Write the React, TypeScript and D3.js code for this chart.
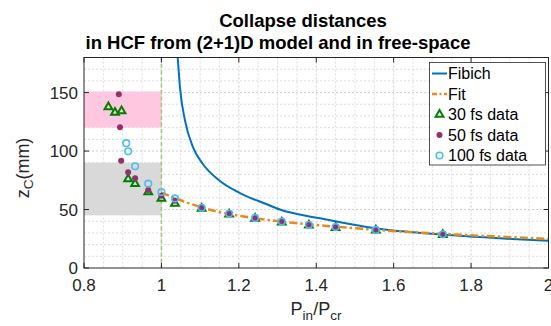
import React from "react";
import * as d3 from "d3";

const W = 551;
const H = 326;

// ---- data ----
const xTicks = [0.8, 1, 1.2, 1.4, 1.6, 1.8, 2];
const xTickLabels = ["0.8", "1", "1.2", "1.4", "1.6", "1.8", "2"];
const yTicks = [0, 50, 100, 150];
const yTickLabels = ["0", "50", "100", "150"];

const fibichP = [1.036, 1.042, 1.048, 1.061, 1.082, 1.108, 1.147, 1.203, 1.272, 1.306, 1.41, 1.513, 1.565, 1.651, 1.78, 2.0];
const fibichZ = [200, 180, 154, 126, 103, 88.5, 75.5, 64.1, 54.5, 50.0, 42.5, 36.1, 33.4, 30.6, 27.3, 23.2];

const fitP = [1.0, 1.07, 1.143, 1.229, 1.332, 1.453, 1.556, 1.78, 2.0];
const fitZ = [64.5, 55.5, 48.3, 43.2, 38.9, 35.3, 32.6, 28.3, 24.9];

const p30 = [0.863, 0.88, 0.897, 0.914, 0.932, 0.966, 1.0, 1.035, 1.104, 1.175, 1.242, 1.311, 1.381, 1.45, 1.554, 1.727];
const z30 = [137.6, 133.0, 134.2, 76.1, 72.1, 65.0, 59.5, 55.2, 50.8, 46.0, 42.3, 39.2, 36.6, 34.5, 32.2, 28.5];

const p50 = [0.89, 0.893, 0.896, 0.914, 0.932, 0.966, 1.0, 1.035, 1.104, 1.175, 1.242, 1.311, 1.381, 1.45, 1.554, 1.727];
const z50 = [148.5, 120.4, 91.8, 81.8, 76.7, 66.7, 61.8, 57.5, 51.3, 46.3, 42.6, 39.5, 36.9, 34.9, 32.5, 28.7];

const p100 = [0.909, 0.914, 0.932, 0.966, 1.0, 1.035, 1.104, 1.175, 1.242, 1.311, 1.381, 1.45, 1.554, 1.727];
const z100 = [106.7, 99.8, 87.0, 72.1, 65.0, 59.5, 51.5, 46.5, 42.8, 39.7, 37.0, 35.0, 32.6, 28.8];

// shaded regions [x0, x1, y0, y1]
const pinkBox = [0.8, 1.0, 120, 151];
const grayBox = [0.8, 1.0, 45, 90];
const thresholdP = 1.0;

const legendLabels = ["Fibich", "Fit", "30 fs data", "50 fs data", "100 fs data"];

// ---- styling ----
const FONT = "'Liberation Sans', Arial, Helvetica, sans-serif";
const BLUE = "#0072BD";
const ORANGE = "#E88A1A";
const GREEN = "#008000";
const PURPLE = "#93306F";
const CYAN = "#4DBEEE";
const AXIS = "#262626";

const L = 84, R = 548.5, T = 57.5, B = 268;

export default function App() {
  const x = d3.scaleLinear().domain([0.8, 2]).range([L, R]);
  const y = d3.scaleLinear().domain([0, 180]).range([B, T]);

  const xMinor = d3.range(0.85, 2.0, 0.05).filter(v => Math.abs((v - 0.8) / 0.2 - Math.round((v - 0.8) / 0.2)) > 1e-6);
  const yMinor = d3.range(10, 180, 10).filter(v => v % 50 !== 0);

  const line = d3.line<[number, number]>().x(d => x(d[0])).y(d => y(d[1])).curve(d3.curveMonotoneX);
  const fibPath = line(fibichP.map((p, i) => [p, fibichZ[i]]) as [number, number][]) || "";
  const fitPath = line(fitP.map((p, i) => [p, fitZ[i]]) as [number, number][]) || "";

  const tri = d3.symbol().type(d3.symbolTriangle).size(26)() || "";

  const legY = [73.5, 94, 114.5, 135, 155.5];
  const legX = 429.5;

  return (
    <svg width={W} height={H} style={{ position: "absolute", left: 0, top: 0, background: "#fff" }} fontFamily={FONT}>
      <defs>
        <clipPath id="plotclip">
          <rect x={L} y={T} width={R - L} height={B - T} />
        </clipPath>
      </defs>
      <rect x={0} y={0} width={W} height={H} fill="#fff" />

      {/* grid */}
      <g stroke="#dcdcdc" strokeWidth={1} strokeDasharray="2,2">
        {xMinor.map((v, i) => <line key={"xm" + i} x1={x(v)} x2={x(v)} y1={T} y2={B} />)}
        {yMinor.map((v, i) => <line key={"ym" + i} x1={L} x2={R} y1={y(v)} y2={y(v)} />)}
      </g>
      <g stroke="#cfcfcf" strokeWidth={1} strokeDasharray="2,2">
        {xTicks.slice(1, -1).map((v, i) => <line key={"xM" + i} x1={x(v)} x2={x(v)} y1={T} y2={B} />)}
        {yTicks.slice(1).map((v, i) => <line key={"yM" + i} x1={L} x2={R} y1={y(v)} y2={y(v)} />)}
      </g>

      {/* shaded boxes */}
      <rect x={x(pinkBox[0])} y={y(pinkBox[3])} width={x(pinkBox[1]) - x(pinkBox[0])} height={y(pinkBox[2]) - y(pinkBox[3])} fill="#FFC8E0" />
      <rect x={x(grayBox[0])} y={y(grayBox[3])} width={x(grayBox[1]) - x(grayBox[0])} height={y(grayBox[2]) - y(grayBox[3])} fill="#D9D9D9" />

      {/* threshold line */}
      <line x1={x(thresholdP)} x2={x(thresholdP)} y1={T} y2={B} stroke="#A6C47A" strokeWidth={1.5} strokeDasharray="4,2.5" />

      <g clipPath="url(#plotclip)">
        <path d={fibPath} fill="none" stroke={BLUE} strokeWidth={2} />
        <path d={fitPath} fill="none" stroke={ORANGE} strokeWidth={2.5} strokeDasharray="8,3,2.5,3" />
        {p30.map((p, i) => (
          <path key={"t" + i} d={tri} transform={`translate(${x(p)},${y(z30[i])})`} fill="none" stroke={GREEN} strokeWidth={2} />
        ))}
        {p50.map((p, i) => (
          <circle key={"d" + i} cx={x(p)} cy={y(z50[i])} r={3} fill={PURPLE} />
        ))}
        {p100.map((p, i) => (
          <circle key={"c" + i} cx={x(p)} cy={y(z100[i])} r={3.3} fill="none" stroke={CYAN} strokeWidth={1.6} />
        ))}
      </g>

      {/* axes box & ticks */}
      <rect x={L} y={T} width={R - L} height={B - T} fill="none" stroke={AXIS} strokeWidth={1} />
      <g stroke={AXIS} strokeWidth={1}>
        {xTicks.map((v, i) => (
          <g key={"xt" + i}>
            <line x1={x(v)} x2={x(v)} y1={B} y2={B - 5} />
            <line x1={x(v)} x2={x(v)} y1={T} y2={T + 5} />
          </g>
        ))}
        {yTicks.map((v, i) => (
          <g key={"yt" + i}>
            <line x1={L} x2={L + 5} y1={y(v)} y2={y(v)} />
            <line x1={R} x2={R - 5} y1={y(v)} y2={y(v)} />
          </g>
        ))}
      </g>
      <g fill={AXIS} fontSize={17}>
        {xTicks.map((v, i) => (
          <text key={"xl" + i} x={x(v)} y={291} textAnchor="middle">{xTickLabels[i]}</text>
        ))}
        {yTicks.map((v, i) => (
          <text key={"yl" + i} x={78} y={y(v)} dy="0.36em" textAnchor="end">{yTickLabels[i]}</text>
        ))}
      </g>

      {/* axis labels */}
      <text x={316} y={315} textAnchor="middle" fontSize={18} fill={AXIS}>
        P<tspan fontSize={13.5} dy={5}>in</tspan><tspan dy={-5}>/P</tspan><tspan fontSize={13.5} dy={5}>cr</tspan>
      </text>
      <text transform={`translate(29,168) rotate(-90)`} textAnchor="middle" fontSize={18} fill={AXIS}>
        z<tspan fontSize={13.5} dy={4}>C</tspan><tspan dy={-4}>(mm)</tspan>
      </text>

      {/* title */}
      <g fontWeight="bold" fontSize={18.5} fill="#000">
        <text x={303} y={27} textAnchor="middle">Collapse distances</text>
        <text x={278} y={49} textAnchor="middle">in HCF from (2+1)D model and in free-space</text>
      </g>

      {/* legend */}
      <rect x={legX} y={62.5} width={116} height={102.5} fill="#fff" stroke={AXIS} strokeWidth={0.8} />
      <line x1={432} x2={447} y1={legY[0]} y2={legY[0]} stroke={BLUE} strokeWidth={2} />
      <line x1={432} x2={447} y1={legY[1]} y2={legY[1]} stroke={ORANGE} strokeWidth={2.5} strokeDasharray="5,2.5,2,2.5" />
      <path d={tri} transform={`translate(439.5,${legY[2]})`} fill="none" stroke={GREEN} strokeWidth={2} />
      <circle cx={439.5} cy={legY[3]} r={3} fill={PURPLE} />
      <circle cx={439.5} cy={legY[4]} r={3.3} fill="none" stroke={CYAN} strokeWidth={1.6} />
      <g fontSize={16} fill="#000">
        {legendLabels.map((t, i) => (
          <text key={"lg" + i} x={448} y={legY[i]} dy="0.36em">{t}</text>
        ))}
      </g>
    </svg>
  );
}
